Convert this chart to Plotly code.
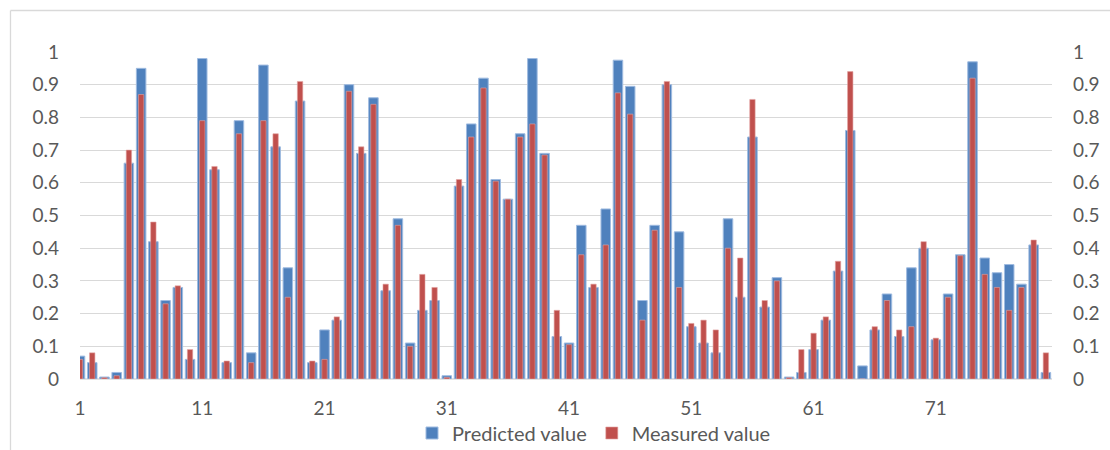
import plotly.graph_objects as go

# Sample index 1..80
samples = list(range(1, 81))

predicted = [
    0.07, 0.05, 0.006, 0.02, 0.66, 0.95, 0.42, 0.24, 0.28, 0.06,
    0.98, 0.64, 0.05, 0.79, 0.08, 0.96, 0.71, 0.34, 0.85, 0.05,
    0.15, 0.18, 0.90, 0.69, 0.86, 0.27, 0.49, 0.11, 0.21, 0.24,
    0.01, 0.59, 0.78, 0.92, 0.61, 0.55, 0.75, 0.98, 0.69, 0.13,
    0.11, 0.47, 0.28, 0.52, 0.975, 0.895, 0.24, 0.47, 0.90, 0.45,
    0.16, 0.11, 0.08, 0.49, 0.25, 0.74, 0.22, 0.31, 0.006, 0.02,
    0.09, 0.18, 0.33, 0.76, 0.04, 0.15, 0.26, 0.13, 0.34, 0.40,
    0.12, 0.26, 0.38, 0.97, 0.37, 0.325, 0.35, 0.29, 0.41, 0.02,
]

measured = [
    0.06, 0.08, 0.004, 0.01, 0.70, 0.87, 0.48, 0.23, 0.285, 0.09,
    0.79, 0.65, 0.055, 0.75, 0.05, 0.79, 0.75, 0.25, 0.91, 0.055,
    0.06, 0.19, 0.88, 0.71, 0.84, 0.29, 0.47, 0.10, 0.32, 0.28,
    0.005, 0.61, 0.74, 0.89, 0.605, 0.55, 0.74, 0.78, 0.685, 0.21,
    0.105, 0.38, 0.29, 0.41, 0.875, 0.81, 0.18, 0.455, 0.91, 0.28,
    0.17, 0.18, 0.15, 0.40, 0.37, 0.855, 0.24, 0.30, 0.004, 0.09,
    0.14, 0.19, 0.36, 0.94, 0.0, 0.16, 0.24, 0.15, 0.16, 0.42,
    0.125, 0.25, 0.377, 0.92, 0.32, 0.28, 0.21, 0.28, 0.425, 0.08,
]

tick_vals = [1, 11, 21, 31, 41, 51, 61, 71]
y_ticks = [round(i * 0.1, 1) for i in range(11)]
y_labels = ["0"] + [f"{v:g}" for v in y_ticks[1:]]

FONT = "Lato"
TEXT = "#595959"
GRID = "#d9d9d9"

fig = go.Figure()
fig.add_trace(go.Bar(
    x=samples, y=predicted, name="Predicted value", width=0.78,
    marker=dict(color="#4f81bd", line=dict(color="#9fbbe0", width=1)),
))
fig.add_trace(go.Bar(
    x=samples, y=measured, name="Measured value", width=0.44,
    marker=dict(color="#c0504d", line=dict(color="#e2a3a1", width=0.6)),
))
# invisible trace carrying the right-hand axis
fig.add_trace(go.Scatter(x=[samples[0]], y=[0], yaxis="y2", mode="markers",
                         marker=dict(opacity=0), showlegend=False, hoverinfo="skip"))

L, R, T, B = 80, 58, 52, 71
W, H = 1110, 450
pw, ph = W - L - R, H - T - B

def px(x):
    return (x - L) / pw

def py(y):
    return (H - B - y) / ph

fig.update_layout(
    width=W, height=H,
    margin=dict(l=L, r=R, t=T, b=B, autoexpand=False),
    barmode="overlay",
    plot_bgcolor="white", paper_bgcolor="white",
    font=dict(family=FONT, size=19, color=TEXT),
    showlegend=True,
    legend=dict(orientation="h", xref="container", yref="container",
                x=594 / W, xanchor="center", y=1 - 433 / H, yanchor="middle",
                font=dict(family=FONT, size=20, color=TEXT),
                itemwidth=30, traceorder="normal", bgcolor="rgba(0,0,0,0)"),
    xaxis=dict(range=[1, 80.5], tickmode="array", tickvals=tick_vals,
               ticktext=[str(v) for v in tick_vals], showgrid=False, zeroline=False,
               showline=False, ticks="", ticklabelstandoff=16, automargin=False,
               tickfont=dict(family=FONT, size=19, color=TEXT)),
    yaxis=dict(range=[0, 1.0], tickmode="array", tickvals=y_ticks, ticktext=y_labels,
               showgrid=True, gridcolor=GRID, gridwidth=1.3, zeroline=False,
               showline=False, ticks="", ticklabelstandoff=20, automargin=False,
               tickfont=dict(family=FONT, size=19, color=TEXT)),
    yaxis2=dict(range=[0, 1.0], overlaying="y", side="right", tickmode="array",
                tickvals=y_ticks, ticktext=y_labels, showgrid=False, zeroline=False,
                showline=False, ticks="", ticklabelstandoff=20, automargin=False,
                tickfont=dict(family=FONT, size=19, color=TEXT)),
    shapes=[
        # baseline
        dict(type="line", xref="paper", yref="paper", x0=0, x1=1, y0=0, y1=0,
             line=dict(color=GRID, width=1.3), layer="below"),
        # chart frame
        dict(type="line", xref="paper", yref="paper", x0=px(10.5), x1=px(10.5),
             y0=py(10.5), y1=py(452), line=dict(color=GRID, width=1.3)),
        dict(type="line", xref="paper", yref="paper", x0=px(10.5), x1=px(1112),
             y0=py(10.5), y1=py(10.5), line=dict(color=GRID, width=1.3)),
    ],
)

fig.write_html("out.html")
